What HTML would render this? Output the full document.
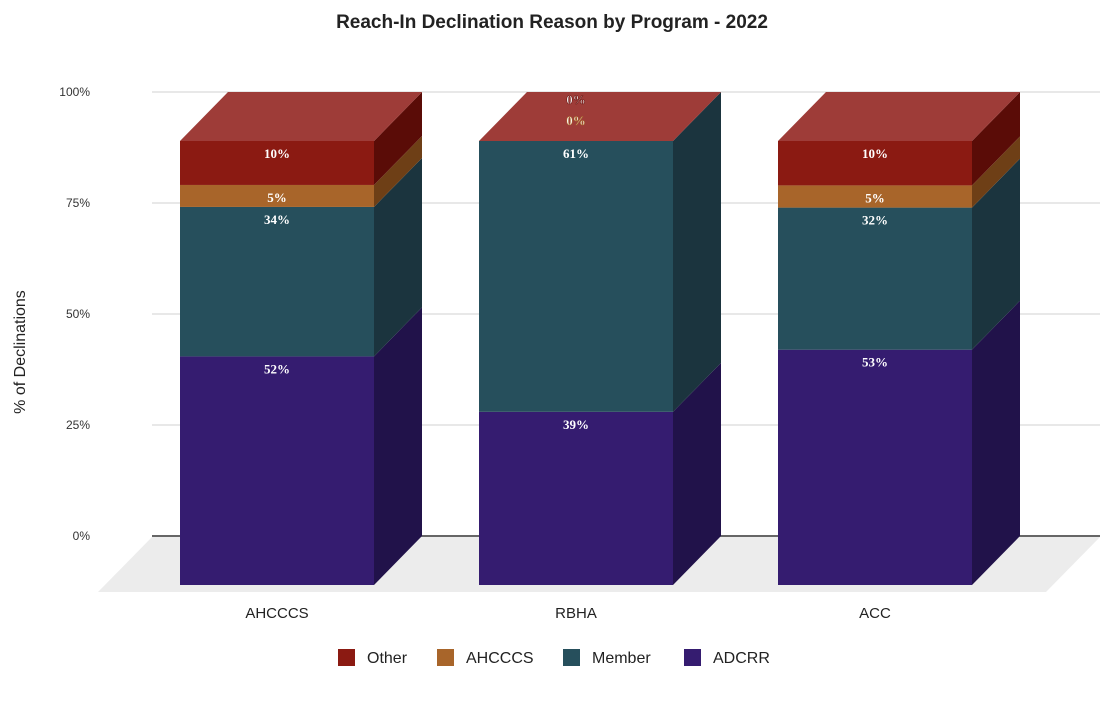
<!DOCTYPE html>
<html><head><meta charset="utf-8"><style>
body{margin:0;background:#fff;}
svg{display:block;}
</style></head><body>
<svg id="chart" width="1109" height="701" xmlns="http://www.w3.org/2000/svg">
<text x="552" y="28" text-anchor="middle" font-family="Liberation Sans, sans-serif" font-weight="bold" font-size="19" fill="#222">Reach-In Declination Reason by Program - 2022</text>
<text transform="translate(25,352) rotate(-90)" text-anchor="middle" font-family="Liberation Sans, sans-serif" font-size="16" fill="#222">% of Declinations</text>
<polygon points="152,537 1100,537 1046,592 98,592" fill="#ececec"/>
<g id="grid"></g>
<g id="bars"></g>
<g id="legend"></g>
</svg>
<script>
const categories = ["AHCCCS", "RBHA", "ACC"];
const seriesNames = ["ADCRR", "Member", "AHCCCS", "Other"];
const adcrr = [52, 39, 53];
const member = [34, 61, 32];
const ahcccs = [5, 0, 5];
const other = [10, 0, 10];
const yTicks = [0, 25, 50, 75, 100];
const yTickLabels = ["0%", "25%", "50%", "75%", "100%"];

const NS = "http://www.w3.org/2000/svg";
const series = [adcrr, member, ahcccs, other];
const front = ["#351c70", "#264f5c", "#a8652a", "#8b1a12"];
const side = ["#21124a", "#1b343e", "#6e3f16", "#5a0c07"];
const topC = "#9e3c38";
const gridY = v => 536 - v * 4.44;
const frontY = v => 585 - v * 4.44;
const DX = 48, DY = 49, BW = 194;
const barX = i => 180 + i * 299;

function mk(tag, attrs, parent) {
  const e = document.createElementNS(NS, tag);
  for (const k in attrs) e.setAttribute(k, attrs[k]);
  parent.appendChild(e);
  return e;
}
const grid = document.getElementById("grid");
yTicks.forEach((t, i) => {
  const y = gridY(t);
  const l = mk("line", {x1: 152, x2: 1100, y1: y, y2: y, stroke: t === 0 ? "#333" : "#d0d0d0", "stroke-width": t === 0 ? 1.5 : 1}, grid);
  
  
  const tx = mk("text", {x: 90, y: y + 4, "text-anchor": "end", "font-family": "Liberation Sans, sans-serif", "font-size": 12, fill: "#333"}, grid);
  tx.textContent = yTickLabels[i];
  
  
});

const bars = document.getElementById("bars");
categories.forEach((c, i) => {
  const x = barX(i);
  let total = 0;
  series.forEach(s => total += s[i]);
  let cum = 0;
  const tops = [];
  series.forEach((s, si) => {
    const v = s[i];
    const p = v / total * 100;
    const y0 = frontY(cum), y1 = frontY(cum + p);
    cum += p;
    tops.push({si, y1, v});
    if (v <= 0) return;
    const r = mk("rect", {x: x, y: y1, width: BW, height: y0 - y1, fill: front[si]}, bars);
    
    
    const sd = mk("polygon", {points: `${x+BW},${y0} ${x+BW+DX},${y0-DY} ${x+BW+DX},${y1-DY} ${x+BW},${y1}`, fill: side[si]}, bars);
    
    
  });
  const yt = frontY(cum);
  const tp = mk("polygon", {points: `${x},${yt} ${x+BW},${yt} ${x+BW+DX},${yt-DY} ${x+DX},${yt-DY}`, fill: topC}, bars);
  
  
  tops.forEach(t => {
    const lab = mk("text", {x: x + BW / 2, "text-anchor": "middle", "font-family": "Liberation Serif, serif", "font-weight": "bold", "font-size": 13, fill: "#fff"}, bars);
    if (t.v > 0) {
      lab.setAttribute("y", t.y1 + 17);
    } else {
      lab.setAttribute("y", t.si === 3 ? 104 : 125);
      lab.setAttribute("stroke", t.si === 3 ? "#6a1410" : "#a8652a");
      lab.setAttribute("stroke-width", "0.6");
    }
    lab.textContent = t.v + "%";
    
    
  });
  const cl = mk("text", {x: x + BW / 2, y: 618, "text-anchor": "middle", "font-family": "Liberation Sans, sans-serif", "font-size": 15, fill: "#222"}, bars);
  cl.textContent = c;
  
  
});

const legend = document.getElementById("legend");
const legendItems = [["Other", 3, 338], ["AHCCCS", 2, 437], ["Member", 1, 563], ["ADCRR", 0, 684]];
legendItems.forEach(([n, si, lx]) => {
  const g = mk("g", {}, legend);
  
  
  mk("rect", {x: lx, y: 649, width: 17, height: 17, fill: front[si]}, g);
  const t = mk("text", {x: lx + 29, y: 663, "font-family": "Liberation Sans, sans-serif", "font-size": 16, fill: "#222"}, g);
  t.textContent = n;
});
</script>
</body></html>
